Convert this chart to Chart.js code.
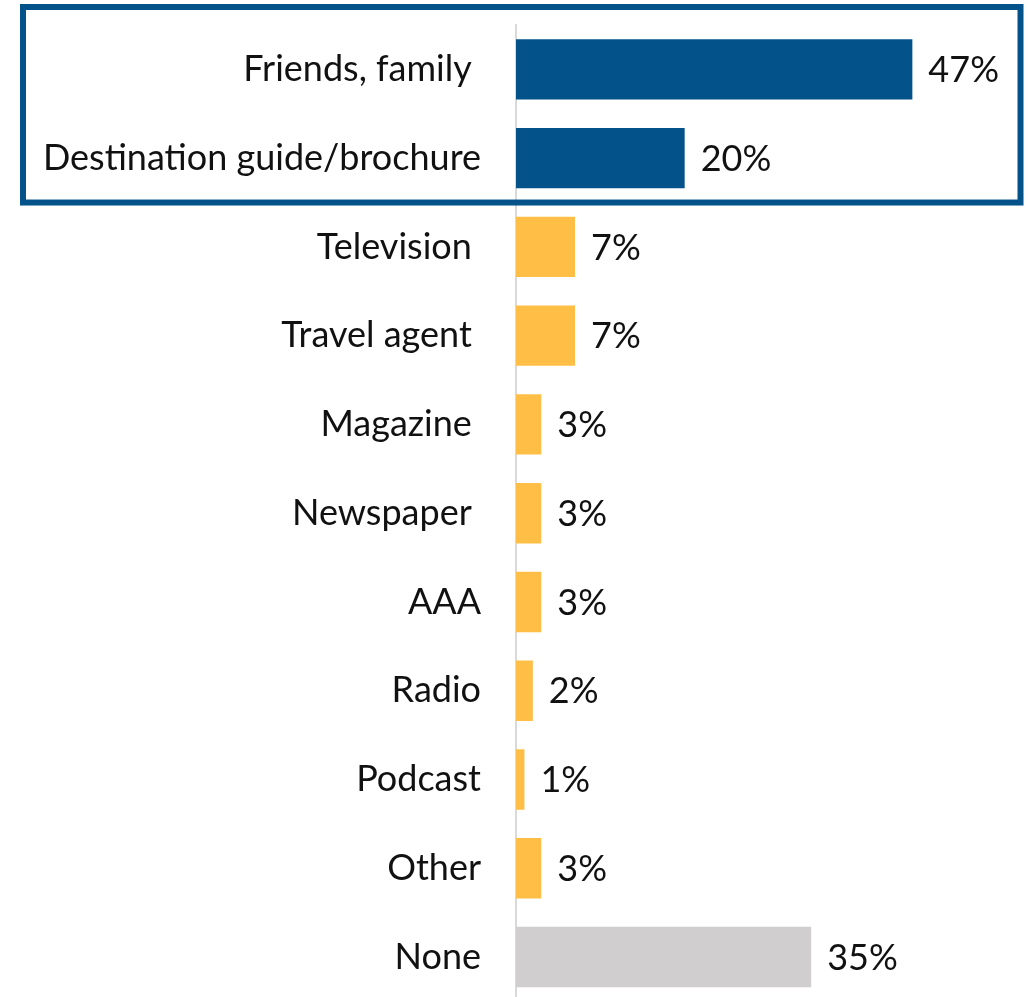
<!DOCTYPE html>
<html>
<head>
<meta charset="utf-8">
<script src="https://cdn.jsdelivr.net/npm/chart.js@4/dist/chart.umd.min.js"></script>
<style>
  html, body { margin: 0; padding: 0; background: #fff; overflow: hidden; }
</style>
</head>
<body>
<canvas id="chart-area" width="1028" height="1023"></canvas>
<script>
// labels keep the trailing spaces the original had
var categories = ['Friends, family ', 'Destination guide/brochure', 'Television ', 'Travel agent ', 'Magazine ', 'Newspaper ', 'AAA', 'Radio', 'Podcast', 'Other', 'None'];
var shares = [47, 20, 7, 7, 3, 3, 3, 2, 1, 3, 35];
var groups = ['top', 'top', 'media', 'media', 'media', 'media', 'media', 'media', 'media', 'media', 'none'];

var groupColors = { top: '#03538A', media: '#FFBF47', none: '#D0CECF' };
var fontFamily = 'Lato, "Open Sans", sans-serif';
var fontSize = 36;

var valueLabels = {
    id: 'valueLabels',
    afterDatasetsDraw: function(chart) {
        var ctx = chart.ctx;
        var meta = chart.getDatasetMeta(0);
        ctx.save();
        ctx.font = fontSize + 'px ' + fontFamily;
        ctx.fillStyle = '#111';
        ctx.textAlign = 'left';
        ctx.textBaseline = 'middle';
        meta.data.forEach(function(bar, i) {
            ctx.fillText(shares[i] + '%', bar.x + 16, bar.y + 1);
        });
        ctx.restore();
    }
};

var highlightBox = {
    id: 'highlightBox',
    afterDraw: function(chart) {
        var y = chart.scales.y;
        var band = (y.bottom - y.top) / categories.length;
        var top = y.getPixelForValue(0) - band / 2 - 18;
        var bottom = y.getPixelForValue(1) + band / 2;
        var ctx = chart.ctx;
        ctx.save();
        ctx.strokeStyle = '#03538A';
        ctx.lineWidth = 6;
        ctx.strokeRect(23, top, chart.width - 7.5 - 23, bottom - top);
        ctx.restore();
    }
};

var config = {
    type: 'bar',
    data: {
        labels: categories,
        datasets: [{
            data: shares,
            backgroundColor: groups.map(function(g) { return groupColors[g]; }),
            borderWidth: 0,
            barPercentage: 0.68,
            categoryPercentage: 1
        }]
    },
    options: {
        indexAxis: 'y',
        responsive: false,
        animation: false,
        layout: { padding: { top: 25, right: 6, left: 0, bottom: 0 } },
        plugins: {
            legend: { display: false },
            tooltip: { enabled: false }
        },
        scales: {
            x: {
                display: false,
                min: 0,
                max: 60
            },
            y: {
                afterFit: function(scale) { scale.width = 516; },
                // invisible tick marks give the gap between labels and axis
                grid: { display: false, drawTicks: true, tickLength: 35 },
                border: { display: true, color: '#D9D9D9', width: 2 },
                ticks: {
                    padding: 0,
                    color: '#111',
                    font: { family: fontFamily, size: fontSize }
                }
            }
        }
    },
    plugins: [valueLabels, highlightBox]
};

window.onload = function() {
    var ctx = document.getElementById('chart-area').getContext('2d');
    window.myBar = new Chart(ctx, config);
};
</script>
</body>
</html>
